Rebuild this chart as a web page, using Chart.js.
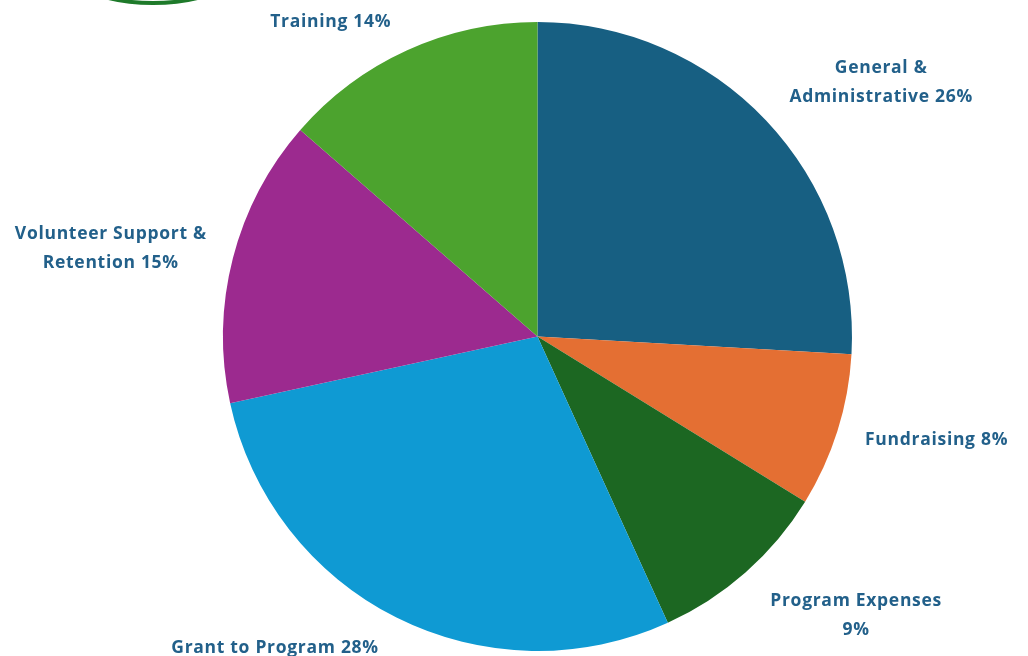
<!DOCTYPE html>
<html>
<head>
<meta charset="utf-8">
<script src="https://cdn.jsdelivr.net/npm/chart.js@4"></script>
<style>
  html, body { margin: 0; padding: 0; background: #fff; }
  #wrap { width: 1028px; height: 656px; position: relative; }
</style>
</head>
<body>
<div id="wrap"><canvas id="pieChart"></canvas></div>
<script>
// data (percent of total)
const categories = ['General & Administrative', 'Fundraising', 'Program Expenses', 'Grant to Program', 'Volunteer Support & Retention', 'Training'];
const shares = [25.9, 7.9, 9.4, 28.4, 14.8, 13.6];
const sliceColors = ['#175F82', '#E46F33', '#1C6722', '#0F9AD3', '#9C2A8F', '#4CA32E'];
// how each label is wrapped in the picture (percent is appended from the data)
const labelLines = [
  ['General &', 'Administrative'],
  ['Fundraising'],
  ['Program Expenses', ''],
  ['Grant to Program'],
  ['Volunteer Support &', 'Retention'],
  ['Training']
];
// label placement: angle nudge (deg) from slice middle, distance as multiple of radius,
// then a small pixel shift
const labelNudge = [6.5, -3.6, -7.3, 15.2, -0.7, -8.2];
const labelDist = [1.358, 1.307, 1.34, 1.294, 1.39, 1.2];
const labelShift = [[2, 2], [0, 5], [2, 1], [9, 8], [-2, 16], [-3, 3]];

const outsideLabels = {
  id: 'outsideLabels',
  afterDatasetsDraw(chart) {
    const ctx = chart.ctx;
    const meta = chart.getDatasetMeta(0);
    const total = shares.reduce((a, b) => a + b, 0);
    ctx.save();
    ctx.font = 'bold 17.5px "Open Sans"';
    ctx.letterSpacing = '0.7px';
    ctx.fillStyle = '#22608A';
    ctx.textAlign = 'center';
    ctx.textBaseline = 'middle';
    meta.data.forEach((arc, i) => {
      const mid = (arc.startAngle + arc.endAngle) / 2 + labelNudge[i] * Math.PI / 180;
      const d = arc.outerRadius * labelDist[i];
      const x = arc.x + Math.cos(mid) * d + labelShift[i][0];
      const y = arc.y + Math.sin(mid) * d + labelShift[i][1];
      const pct = Math.round(shares[i] / total * 100) + '%';
      const lines = labelLines[i].slice();
      const last = lines.length - 1;
      lines[last] = lines[last] ? lines[last] + ' ' + pct : pct;
      const lh = 29;
      lines.forEach((t, k) => {
        ctx.fillText(t, x, y + (k - (lines.length - 1) / 2) * lh);
      });
    });
    ctx.restore();
  }
};

// bit of a green logo cut off at the top left corner
const cornerLogo = {
  id: 'cornerLogo',
  beforeDraw(chart) {
    const ctx = chart.ctx;
    ctx.save();
    ctx.beginPath();
    ctx.ellipse(153, -27, 80, 30, 0, 0, Math.PI * 2);
    ctx.lineWidth = 4;
    ctx.strokeStyle = '#1E7A2A';
    ctx.stroke();
    ctx.restore();
  }
};

new Chart(document.getElementById('pieChart').getContext('2d'), {
  type: 'pie',
  data: {
    labels: categories,
    datasets: [{
      data: shares,
      backgroundColor: sliceColors,
      borderWidth: 0
    }]
  },
  options: {
    responsive: true,
    maintainAspectRatio: false,
    animation: false,
    layout: { padding: { top: 22, bottom: 5, left: 47, right: 0 } },
    plugins: {
      legend: { display: false },
      tooltip: { enabled: false }
    }
  },
  plugins: [outsideLabels, cornerLogo]
});
</script>
</body>
</html>
